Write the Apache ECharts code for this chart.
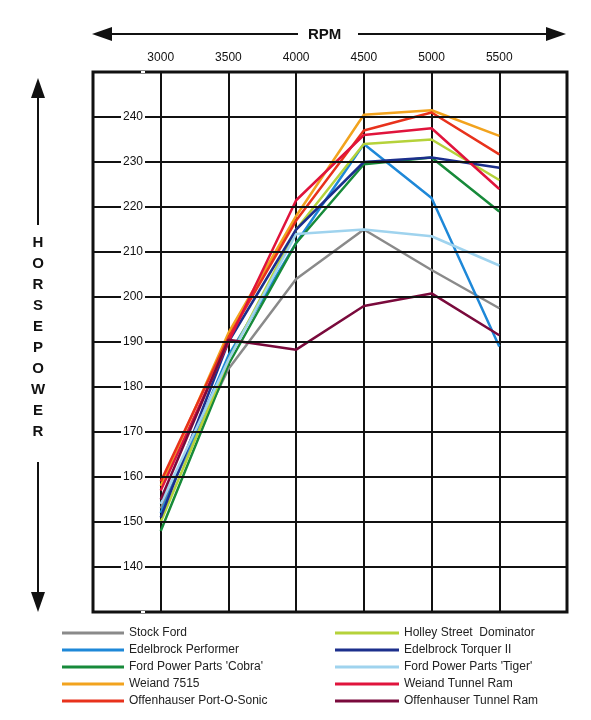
<!DOCTYPE html>
<html><head><meta charset="utf-8">
<script src="https://cdn.jsdelivr.net/npm/echarts@6/dist/echarts.min.js"></script>
<style>html,body{margin:0;padding:0;background:#fff}#c{width:591px;height:720px}</style>
</head><body><div id="c"></div>
<script>
var rpm = [3000, 3500, 4000, 4500, 5000, 5500];
var names = ["Stock Ford","Edelbrock Performer","Ford Power Parts 'Cobra'","Weiand 7515","Offenhauser Port-O-Sonic",
             "Holley Street  Dominator","Edelbrock Torquer II","Ford Power Parts 'Tiger'","Weiand Tunnel Ram","Offenhauser Tunnel Ram"];
var colors = ["#8a8a8a","#1e88d8","#178a3a","#f2a31e","#e8321c","#b5d23a","#1c2f8c","#9fd3ee","#e0143c","#7a0a3c"];
var stockFord     = [153, 184, 204, 215, 206, 197.5];
var edelPerformer = [152, 187, 212, 234, 222, 189];
var cobra         = [148, 185, 212, 229.5, 231, 219];
var weiand7515    = [158, 192, 218, 240.5, 241.5, 235.8];
var portOSonic    = [159, 191, 217, 237, 241, 231.7];
var holley        = [150, 186, 215, 234, 235, 226];
var torquer       = [151, 190, 215, 230, 231, 228.7];
var tiger         = [154, 186, 214, 215, 213.5, 207];
var weiandTR      = [157, 190, 221.5, 236, 237.5, 224];
var offyTR        = [155, 190.5, 188.3, 198, 200.8, 191.5];
var all = [stockFord, edelPerformer, cobra, weiand7515, portOSonic, holley, torquer, tiger, weiandTR, offyTR];

var series = all.map(function(v, i){
  return {name: names[i], type: 'line', symbol: 'none', color: colors[i],
    lineStyle: {width: 2.5, color: colors[i]},
    data: rpm.map(function(r, j){ return [r, v[j]]; })};
});
var letters = "HORSEPOWER".split("");
var graphics = [
  {type:'text', left: 308, top: 27, style:{text:'RPM', font:'bold 15px Liberation Sans, Arial', fill:'#111'}},
  {type:'line', shape:{x1:100,y1:34,x2:298,y2:34}, style:{stroke:'#111', lineWidth:2}},
  {type:'line', shape:{x1:358,y1:34,x2:555,y2:34}, style:{stroke:'#111', lineWidth:2}},
  {type:'polygon', shape:{points:[[92,34],[112,27],[112,41]]}, style:{fill:'#111'}},
  {type:'polygon', shape:{points:[[566,34],[546,27],[546,41]]}, style:{fill:'#111'}},
  {type:'line', shape:{x1:38,y1:90,x2:38,y2:225}, style:{stroke:'#111', lineWidth:2}},
  {type:'line', shape:{x1:38,y1:462,x2:38,y2:600}, style:{stroke:'#111', lineWidth:2}},
  {type:'polygon', shape:{points:[[38,78],[31,98],[45,98]]}, style:{fill:'#111'}},
  {type:'polygon', shape:{points:[[38,612],[31,592],[45,592]]}, style:{fill:'#111'}}
];
letters.forEach(function(l, i){
  graphics.push({type:'text', x: 38, y: 243 + i*21, style:{text:l, font:'bold 15px Liberation Sans, Arial', fill:'#111', align:'center', verticalAlign:'middle'}});
});
var chart = echarts.init(document.getElementById('c'));
chart.setOption({
  backgroundColor:'#fff',
  animation:false,
  grid:{left:93, right:24, top:72, bottom:108, show:true, borderColor:'#111', borderWidth:3},
  xAxis:{type:'value', position:'top', min:2500, max:6000, interval:500,
    axisLine:{show:false}, axisTick:{show:false},
    axisLabel:{color:'#111', fontSize:12, margin:8, formatter:function(v){return (v>=3000&&v<=5500)?v:'';}},
    splitLine:{lineStyle:{color:'#111', width:2}}},
  yAxis:{type:'value', min:130, max:250, interval:10, z:5,
    axisLine:{show:false}, axisTick:{show:false},
    axisLabel:{color:'#111', fontSize:12, margin:-52, verticalAlign:'middle', align:'right',
      backgroundColor:'#fff', padding:[1,2],
      formatter:function(v){return (v>=140&&v<=240)?v:'';}},
    splitLine:{lineStyle:{color:'#111', width:2}}},
  legend:[
    {data:names.slice(0,5), orient:'vertical', left:57, top:622, itemWidth:62, itemHeight:3, itemGap:5, icon:'rect',
      textStyle:{fontSize:12, color:'#222'}},
    {data:names.slice(5), orient:'vertical', left:330, top:622, itemWidth:64, itemHeight:3, itemGap:5, icon:'rect',
      textStyle:{fontSize:12, color:'#222'}}
  ],
  graphic: graphics,
  series: series
});
</script></body></html>
